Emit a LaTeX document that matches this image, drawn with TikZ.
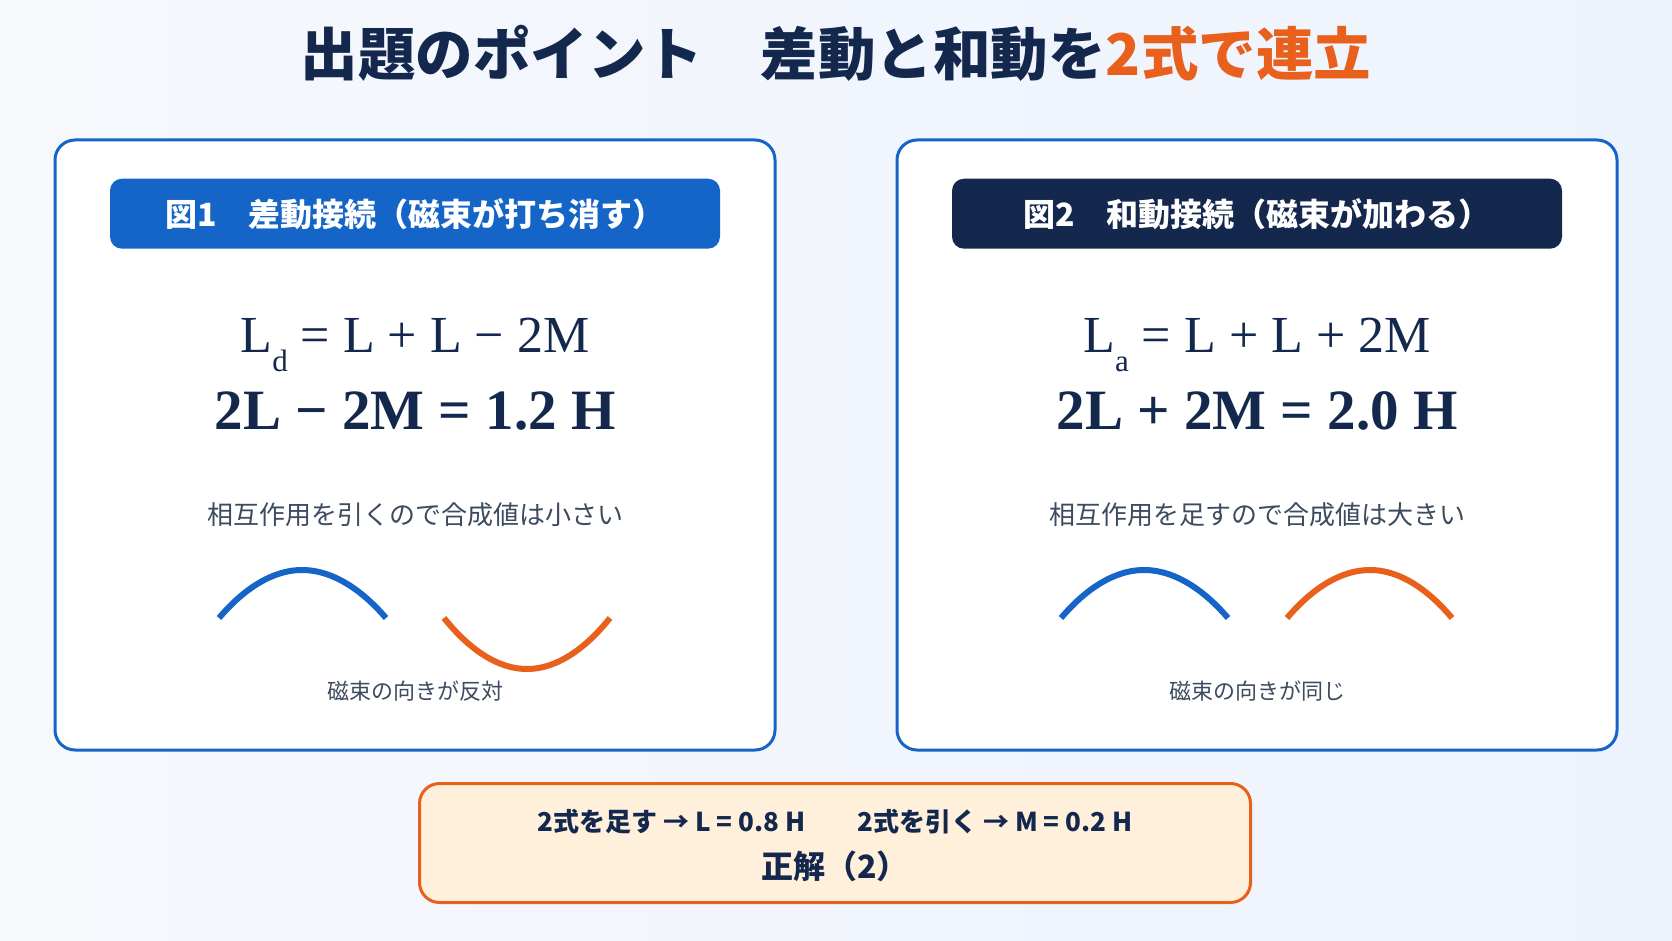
\documentclass[tikz,border=0pt]{standalone}
\usepackage{fontspec}
\setmainfont{Liberation Serif}
\newfontfamily\jp{Noto Sans CJK JP}
\usetikzlibrary{positioning}

\definecolor{navy}{HTML}{13284C}
\definecolor{coilblue}{HTML}{1565C8}
\definecolor{accent}{HTML}{E8601C}
\definecolor{note}{HTML}{3D4B60}
\definecolor{cream}{HTML}{FFF0DC}
\definecolor{bgleft}{HTML}{F6F8FC}
\definecolor{bgright}{HTML}{EDF3FD}

\tikzset{
  panel/.style = {draw = coilblue, line width = 3pt, fill = white,
    rounded corners = 20pt, minimum width = 720pt, minimum height = 610pt},
  head/.style = {rounded corners = 12pt, minimum width = 610pt,
    minimum height = 70pt, text = white,
    font = \jp\bfseries\fontsize{32}{38}\selectfont},
  eqn/.style = {text = navy, font = \fontsize{52}{58}\selectfont},
  eqnbold/.style = {text = navy, font = \bfseries\fontsize{57}{64}\selectfont},
  remark/.style = {text = note, font = \jp\fontsize{26}{31}\selectfont},
  caption/.style = {text = note, font = \jp\fontsize{22}{27}\selectfont},
  coil/.style = {line width = 6pt}
}

\begin{document}
\begin{tikzpicture}[x = 1pt, y = -1pt]
  \useasboundingbox[left color = bgleft, right color = bgright]
    (0,0) rectangle (1672,941);

  % title
  \node (title) at (836,53) [text = navy,
    font = \jp\bfseries\fontsize{57.5}{66}\selectfont]
    {出題のポイント　差動と和動を\textcolor{accent}{2式で連立}};

  % figure 1
  \node[panel] (p1) at (415,445) {};
  \node[head, fill = coilblue, below = 40pt of p1.north] (h1)
    {図1　差動接続（磁束が打ち消す）};
  \node[eqn] (e1) at (415,345)
    {L\raisebox{-0.38em}{\fontsize{31}{31}\selectfont d} = L + L − 2M};
  \node[eqnbold] (f1) at (415,411) {2L − 2M = 1.2 H};
  \node[remark] (r1) at (415,515) {相互作用を引くので合成値は小さい};
  \draw[coil, coilblue] (219,618) parabola bend (302,570) (386,618);
  \draw[coil, accent] (444,618) parabola bend (527,669) (610,618);
  \node[caption] (c1) at (415,691) {磁束の向きが反対};

  % figure 2
  \node[panel] (p2) at (1257,445) {};
  \node[head, fill = navy, below = 40pt of p2.north] (h2)
    {図2　和動接続（磁束が加わる）};
  \node[eqn] (e2) at (1257,345)
    {L\raisebox{-0.38em}{\fontsize{31}{31}\selectfont a} = L + L + 2M};
  \node[eqnbold] (f2) at (1257,411) {2L + 2M = 2.0 H};
  \node[remark] (r2) at (1257,515) {相互作用を足すので合成値は大きい};
  \draw[coil, coilblue] (1061,618) parabola bend (1144,570) (1228,618);
  \draw[coil, accent] (1287,618) parabola bend (1370,570) (1452,618);
  \node[caption] (c2) at (1257,691) {磁束の向きが同じ};

  % answer
  \node (ans) at (835,843) [draw = accent, line width = 3pt, fill = cream,
    rounded corners = 20pt, minimum width = 831pt, minimum height = 119pt] {};
  \node (a1) at (835,822) [text = navy,
    font = \jp\bfseries\fontsize{26}{30}\selectfont]
    {2式を足す → L = 0.8 H　　2式を引く → M = 0.2 H};
  \node (a2) at (835,866) [text = navy,
    font = \jp\bfseries\fontsize{32}{37}\selectfont] {正解（2）};
\end{tikzpicture}
\end{document}
